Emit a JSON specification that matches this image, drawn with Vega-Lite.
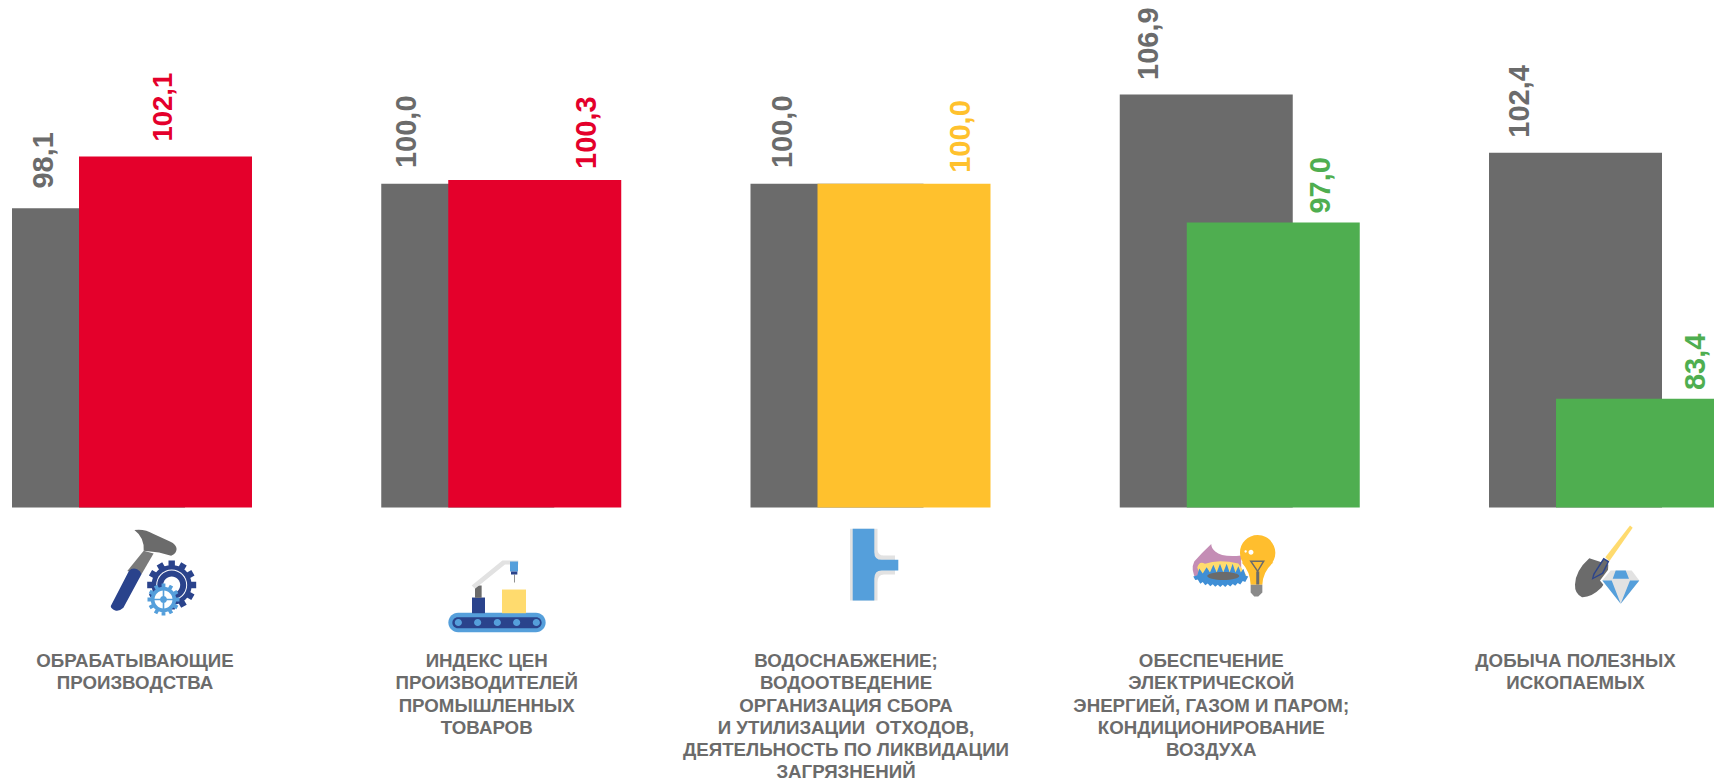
{"$schema":"https://vega.github.io/schema/vega-lite/v6.json","width":1714,"height":780,"padding":0,"autosize":{"type":"none"},"background":"white","config":{"view":{"stroke":null}},
"datasets":{
"bars":[
{"cat":"Обрабатывающие","series":"prev","kind":"prev","value":98.1,"label":"98,1"},
{"cat":"Индекс цен","series":"prev","kind":"prev","value":100.0,"label":"100,0"},
{"cat":"Водоснабжение","series":"prev","kind":"prev","value":100.0,"label":"100,0"},
{"cat":"Энергия","series":"prev","kind":"prev","value":106.9,"label":"106,9"},
{"cat":"Добыча","series":"prev","kind":"prev","value":102.4,"label":"102,4"},
{"cat":"Обрабатывающие","series":"cur","kind":"rise","value":102.1,"label":"102,1"},
{"cat":"Индекс цен","series":"cur","kind":"rise","value":100.3,"label":"100,3"},
{"cat":"Водоснабжение","series":"cur","kind":"flat","value":100.0,"label":"100,0"},
{"cat":"Энергия","series":"cur","kind":"fall","value":97.0,"label":"97,0"},
{"cat":"Добыча","series":"cur","kind":"fall","value":83.4,"label":"83,4"}],
"names":[
{"cat":"Обрабатывающие","text":"ОБРАБАТЫВАЮЩИЕ\nПРОИЗВОДСТВА"},
{"cat":"Индекс цен","text":"ИНДЕКС ЦЕН\nПРОИЗВОДИТЕЛЕЙ\nПРОМЫШЛЕННЫХ\nТОВАРОВ"},
{"cat":"Водоснабжение","text":"ВОДОСНАБЖЕНИЕ;\nВОДООТВЕДЕНИЕ\nОРГАНИЗАЦИЯ СБОРА\nИ УТИЛИЗАЦИИ \u00a0ОТХОДОВ,\nДЕЯТЕЛЬНОСТЬ ПО ЛИКВИДАЦИИ\nЗАГРЯЗНЕНИЙ"},
{"cat":"Энергия","text":"ОБЕСПЕЧЕНИЕ\nЭЛЕКТРИЧЕСКОЙ\nЭНЕРГИЕЙ, ГАЗОМ И ПАРОМ;\nКОНДИЦИОНИРОВАНИЕ\nВОЗДУХА"},
{"cat":"Добыча","text":"ДОБЫЧА ПОЛЕЗНЫХ\nИСКОПАЕМЫХ"}],
"icons":[
{"cat":"Обрабатывающие","part":"hhead"},{"cat":"Обрабатывающие","part":"hhandle"},{"cat":"Обрабатывающие","part":"hgrip"},{"cat":"Обрабатывающие","part":"g1"},{"cat":"Обрабатывающие","part":"w1"},{"cat":"Обрабатывающие","part":"g1b"},{"cat":"Обрабатывающие","part":"w2"},{"cat":"Обрабатывающие","part":"g2"},{"cat":"Обрабатывающие","part":"w3"},{"cat":"Обрабатывающие","part":"hub"},
{"cat":"Индекс цен","part":"belt"},{"cat":"Индекс цен","part":"beltin"},{"cat":"Индекс цен","part":"rollers"},{"cat":"Индекс цен","part":"base"},{"cat":"Индекс цен","part":"armg"},{"cat":"Индекс цен","part":"arml"},{"cat":"Индекс цен","part":"head"},{"cat":"Индекс цен","part":"nozzle"},{"cat":"Индекс цен","part":"needle"},{"cat":"Индекс цен","part":"box"},
{"cat":"Водоснабжение","part":"pipeout"},{"cat":"Водоснабжение","part":"pipe"},
{"cat":"Энергия","part":"flame"},{"cat":"Энергия","part":"flamein"},{"cat":"Энергия","part":"spikes"},{"cat":"Энергия","part":"ring"},{"cat":"Энергия","part":"burner"},{"cat":"Энергия","part":"bulb"},{"cat":"Энергия","part":"cap"},{"cat":"Энергия","part":"filament"},{"cat":"Энергия","part":"shine"},
{"cat":"Добыча","part":"shaft"},{"cat":"Добыча","part":"blade"},{"cat":"Добыча","part":"socket"},{"cat":"Добыча","part":"socketin"},{"cat":"Добыча","part":"gemgap"},{"cat":"Добыча","part":"gem"},{"cat":"Добыча","part":"gemblue"}]
},
"encoding":{"x":{"field":"cat","type":"nominal","axis":null,"sort":null,"scale":{"type":"band","domain":["Обрабатывающие","Индекс цен","Водоснабжение","Энергия","Добыча"],"range":[12,1662],"paddingInner":0.5315,"paddingOuter":0}}},
"layer":[
{"data":{"name":"bars"},"transform":[{"filter":"datum.series==='prev'"}],"mark":{"type":"bar","color":"#6B6B6B"},"encoding":{"y":{"field":"value","type":"quantitative","axis":null,"scale":{"domain":[53.96,114.19],"zero":false,"nice":false}},"y2":{"datum":75}}},
{"data":{"name":"bars"},"transform":[{"filter":"datum.series==='cur'"}],"mark":{"type":"bar","xOffset":67},"encoding":{"y":{"field":"value","type":"quantitative"},"y2":{"datum":75},"color":{"field":"kind","type":"nominal","legend":null,"scale":{"domain":["rise","flat","fall"],"range":["#E4002B","#FFC12D","#4FAE50"]}}}},
{"data":{"name":"bars"},"transform":[{"filter":"datum.series==='prev'&&datum.cat==='Обрабатывающие'"}],"mark":{"type":"text","angle":270,"align":"left","baseline":"middle","font":"Liberation Sans","fontSize":29,"fontWeight":"bold","color":"#6B6B6B","xOffset":-54.3,"yOffset":-19.8},"encoding":{"y":{"field":"value","type":"quantitative"},"text":{"field":"label"}}},
{"data":{"name":"bars"},"transform":[{"filter":"datum.series==='prev'&&datum.cat==='Индекс цен'"}],"mark":{"type":"text","angle":270,"align":"left","baseline":"middle","font":"Liberation Sans","fontSize":29,"fontWeight":"bold","color":"#6B6B6B","xOffset":-60.3,"yOffset":-15.75},"encoding":{"y":{"field":"value","type":"quantitative"},"text":{"field":"label"}}},
{"data":{"name":"bars"},"transform":[{"filter":"datum.series==='prev'&&datum.cat==='Водоснабжение'"}],"mark":{"type":"text","angle":270,"align":"left","baseline":"middle","font":"Liberation Sans","fontSize":29,"fontWeight":"bold","color":"#6B6B6B","xOffset":-54,"yOffset":-15.75},"encoding":{"y":{"field":"value","type":"quantitative"},"text":{"field":"label"}}},
{"data":{"name":"bars"},"transform":[{"filter":"datum.series==='prev'&&datum.cat==='Энергия'"}],"mark":{"type":"text","angle":270,"align":"left","baseline":"middle","font":"Liberation Sans","fontSize":29,"fontWeight":"bold","color":"#6B6B6B","xOffset":-57.3,"yOffset":-14.5},"encoding":{"y":{"field":"value","type":"quantitative"},"text":{"field":"label"}}},
{"data":{"name":"bars"},"transform":[{"filter":"datum.series==='prev'&&datum.cat==='Добыча'"}],"mark":{"type":"text","angle":270,"align":"left","baseline":"middle","font":"Liberation Sans","fontSize":29,"fontWeight":"bold","color":"#6B6B6B","xOffset":-55.5,"yOffset":-15},"encoding":{"y":{"field":"value","type":"quantitative"},"text":{"field":"label"}}},
{"data":{"name":"bars"},"transform":[{"filter":"datum.series==='cur'&&datum.cat==='Обрабатывающие'"}],"mark":{"type":"text","angle":270,"align":"left","baseline":"middle","font":"Liberation Sans","fontSize":27.5,"fontWeight":"bold","color":"#E4002B","xOffset":65.2,"yOffset":-15},"encoding":{"y":{"field":"value","type":"quantitative"},"text":{"field":"label"}}},
{"data":{"name":"bars"},"transform":[{"filter":"datum.series==='cur'&&datum.cat==='Индекс цен'"}],"mark":{"type":"text","angle":270,"align":"left","baseline":"middle","font":"Liberation Sans","fontSize":29,"fontWeight":"bold","color":"#E4002B","xOffset":119.5,"yOffset":-10.9},"encoding":{"y":{"field":"value","type":"quantitative"},"text":{"field":"label"}}},
{"data":{"name":"bars"},"transform":[{"filter":"datum.series==='cur'&&datum.cat==='Водоснабжение'"}],"mark":{"type":"text","angle":270,"align":"left","baseline":"middle","font":"Liberation Sans","fontSize":29,"fontWeight":"bold","color":"#FFC12D","xOffset":123.5,"yOffset":-11},"encoding":{"y":{"field":"value","type":"quantitative"},"text":{"field":"label"}}},
{"data":{"name":"bars"},"transform":[{"filter":"datum.series==='cur'&&datum.cat==='Энергия'"}],"mark":{"type":"text","angle":270,"align":"left","baseline":"middle","font":"Liberation Sans","fontSize":29,"fontWeight":"bold","color":"#4FAE50","xOffset":114.5,"yOffset":-9},"encoding":{"y":{"field":"value","type":"quantitative"},"text":{"field":"label"}}},
{"data":{"name":"bars"},"transform":[{"filter":"datum.series==='cur'&&datum.cat==='Добыча'"}],"mark":{"type":"text","angle":270,"align":"left","baseline":"middle","font":"Liberation Sans","fontSize":29,"fontWeight":"bold","color":"#4FAE50","xOffset":120.5,"yOffset":-8.7},"encoding":{"y":{"field":"value","type":"quantitative"},"text":{"field":"label"}}},
{"data":{"name":"icons"},"mark":{"type":"point","filled":true,"size":4,"opacity":1,"strokeWidth":0},"encoding":{"y":{"datum":75},
"shape":{"field":"part","type":"nominal","legend":null,"scale":{
"domain":["hhead","hhandle","hgrip","g1","w1","g1b","w2","g2","w3","hub","belt","beltin","rollers","base","armg","arml","head","nozzle","needle","box","pipeout","pipe","flame","flamein","spikes","ring","burner","bulb","cap","filament","shine","shaft","blade","socket","socketin","gemgap","gem","gemblue"],
"range":[
"M35.9 22.5Q46 21 55.1 26.5L71.5 34Q78.1 37 78.1 41.6Q78 46 72.6 48.3L60.6 45L45.2 43.3Q46 30 35.9 22.5Z",
"M45.2 43.3L55.1 46L43 66.8L28.8 63.4Z",
"M30.4 63.4Q34 59.5 38.6 61.7Q42 63 43 66.8L24.9 100.3Q21 104 16.7 103Q12 101 12.3 98.6Z",
"M73.2 77.5m-24.5 -3.2l49 0l0 6.4l-49 0zm24.5 3.2m-19.62 -15.02l42.43 24.5l-3.2 5.54l-42.43 -24.5zm19.62 15.02m-9.48 -22.82l24.5 42.43l-5.54 3.2l-24.5 -42.43zm9.48 22.82m3.2 -24.5l0 49l-6.4 0l0 -49zm-3.2 24.5m15.02 -19.62l-24.5 42.43l-5.54 -3.2l24.5 -42.43zm-15.02 19.62m22.82 -9.48l-42.43 24.5l-3.2 -5.54l42.43 -24.5zm-22.82 9.48m-20 0a20 20 0 1 1 40 0a20 20 0 1 1 -40 0z",
"M57.7 77.5a15.5 15.5 0 1 1 31 0a15.5 15.5 0 1 1 -31 0z",
"M58.7 77.5a14.5 14.5 0 1 1 29 0a14.5 14.5 0 1 1 -29 0z",
"M64.7 77.5a8.5 8.5 0 1 1 17 0a8.5 8.5 0 1 1 -17 0z",
"M65 92m-16 -1.9l32 0l0 3.8l-32 0zm16 1.9m-12.91 -9.65l27.71 16l-1.9 3.29l-27.71 -16zm12.91 9.65m-6.35 -14.81l16 27.71l-3.29 1.9l-16 -27.71zm6.35 14.81m1.9 -16l0 32l-3.8 0l0 -32zm-1.9 16m9.65 -12.91l-16 27.71l-3.29 -1.9l16 -27.71zm-9.65 12.91m14.81 -6.35l-27.71 16l-1.9 -3.29l27.71 -16zm-14.81 6.35m-12.8 0a12.8 12.8 0 1 1 25.6 0a12.8 12.8 0 1 1 -25.6 0z",
"M56 92a9 9 0 1 1 18 0a9 9 0 1 1 -18 0z",
"M55.5 91.2L74.5 91.2L74.5 92.8L55.5 92.8ZM64.2 82.5L65.8 82.5L65.8 101.5L64.2 101.5ZM61.5 92a3.5 3.5 0 1 1 7 0a3.5 3.5 0 1 1 -7 0z",
"M-9.7 105.3L68.2 105.3a9.7 9.7 0 0 1 0 19.4L-9.7 124.7a9.7 9.7 0 0 1 0 -19.4z",
"M-9.9 109.7L68.4 109.7a5.5 5.5 0 0 1 0 11L-9.9 120.7a5.5 5.5 0 0 1 0 -11z",
"M-13 115a3.6 3.6 0 1 1 7.2 0a3.6 3.6 0 1 1 -7.2 0zM6.3 115a3.6 3.6 0 1 1 7.2 0a3.6 3.6 0 1 1 -7.2 0zM26 115a3.6 3.6 0 1 1 7.2 0a3.6 3.6 0 1 1 -7.2 0zM45.3 115a3.6 3.6 0 1 1 7.2 0a3.6 3.6 0 1 1 -7.2 0zM65 115a3.6 3.6 0 1 1 7.2 0a3.6 3.6 0 1 1 -7.2 0z",
"M4.25 90L17.25 90L17.25 105.7L4.25 105.7Z",
"M7.25 78L13.9 78L13.9 90.3L7.25 90.3Z",
"M3.9 78L34.6 53L50.6 53L50.6 57L37.25 57L7.25 81.3Z",
"M42.25 54L50.25 54L50.25 64L42.25 64Z",
"M43.25 64L49.6 64L49.6 67L43.25 67Z",
"M46.25 67L47 67L47 75L46.25 75Z",
"M34.25 82L58.25 82L58.25 105.7L34.25 105.7Z",
"M13 21.3L40.5 21.3L40.5 42Q40.5 48 47 48L58 48L58 67L47 67Q40.5 67 40.5 75L40.5 93L13 93Z",
"M15.7 21.3L37.3 21.3L37.3 44.7Q37.3 52.3 44.7 52.3L61.3 52.3L61.3 63L44.7 63Q37.3 63 37.3 71.3L37.3 93L15.7 93Z",
"M5 36.6Q-5 46 -12 54Q-16 62 -10 72L35 62L34.8 48Q16 50 9 44Q5 41 5 36.6Z",
"M-9 60Q-7 53 -1.25 56.3Q12.1 51.3 32.1 56L40.4 68L-4.6 73Z",
"M-9 68L-7 61L-3.5 66L0.4 59.7L3.7 65L7.1 57.3L10.4 65L13.75 56.3L17 65L20.4 56.3L23.4 65L26.4 56.3L29.2 65L32.1 58.7L34.6 65L37.1 61.3L40 70L14 72Z",
"M-13 69L-11 72.6L-8.5 72L-6 76.2L-3.5 74.5L-1 77.8L1.5 76L4 78.7L6.5 76.8L9 79.3L11.5 77.2L14 79.5L16.5 77.2L19 79.4L21.5 77L24 79L26.5 76.5L29 78.2L31.5 75.5L34 77L36.5 73.5L39 74.6L42 69Q15 60 -13 69Z",
"M1 68.5a16 4 0 1 1 32 0a16 4 0 1 1 -32 0z",
"M33.7 45.3a17.7 17.7 0 1 1 35.4 0a17.7 17.7 0 1 1 -35.4 0zM67.1 55Q56.5 64 56.1 77.3L44.4 77.3Q44 64 35.4 55Z",
"M44.4 77.3L56.1 77.3L56.1 85L52 89L48 89L44.4 85Z",
"M43.1 53L58.75 53L51.4 65ZM46 54.5L51.4 62.5L56 54.5ZM50 64L53 64L53 77L50 77Z",
"M42.25 44.7a2.5 2.5 0 1 1 5 0a2.5 2.5 0 1 1 -5 0zM38.2 44a1.2 1.2 0 1 1 2.4 0a1.2 1.2 0 1 1 -2.4 0z",
"M54.5 18L57.2 20.3L33.8 53.7L29.8 49.7Z",
"M13.8 50.7L32.8 57Q33 72 26 80Q16 90 6.5 89.7Q-1 86 -0.5 77Q0 63 13.8 50.7Z",
"M28 50.3L33.8 53.7L27.8 66.3L16.2 72.3L17.8 66.3Z",
"M28.5 52.3L32 54.5L26.5 65.3L18 70L19.3 66.5Z",
"M33.5 61L57.5 61L66 73L45.2 99L24.5 73Z",
"M35.2 63L56.2 63L63.8 73L45.2 96.3L26.8 73Z",
"M40.2 63L50.2 63L53.5 71.3L37.2 71.3ZM26.8 73L36.2 73L45.2 96.3ZM63.8 73L54.5 73L45.2 96.3Z"
]}},
"color":{"field":"part","type":"nominal","legend":null,"scale":{
"domain":["hhead","hhandle","hgrip","g1","w1","g1b","w2","g2","w3","hub","belt","beltin","rollers","base","armg","arml","head","nozzle","needle","box","pipeout","pipe","flame","flamein","spikes","ring","burner","bulb","cap","filament","shine","shaft","blade","socket","socketin","gemgap","gem","gemblue"],
"range":["#6B6B6B","#7A7A7A","#2A438C","#2A438C","#FFFFFF","#2A438C","#FFFFFF","#559FDB","#FFFFFF","#559FDB","#559FDB","#2A438C","#559FDB","#2A438C","#6B6B6B","#E2E2E2","#559FDB","#2A438C","#6B6B6B","#FFDB6E","#E2E2E2","#559FDB","#C48DB5","#FFDB6E","#3F8FD6","#3F8FD6","#6B6B6B","#FFBE2E","#8A8A8A","#6B6B6B","#FFFFFF","#FFDB6E","#6B6B6B","#2A438C","#6B6B6B","#FFFFFF","#E2E2E2","#559FDB"]}}}},
{"data":{"name":"names"},"transform":[{"filter":"datum.cat==='Обрабатывающие'"}],"mark":{"type":"text","align":"center","baseline":"top","lineBreak":"\n","lineHeight":22.3,"font":"Liberation Sans","fontSize":18.7,"fontWeight":"bold","color":"#6B6B6B","xOffset":36.5},"encoding":{"y":{"datum":63.85},"text":{"field":"text"}}},
{"data":{"name":"names"},"transform":[{"filter":"datum.cat==='Индекс цен'"}],"mark":{"type":"text","align":"center","baseline":"top","lineBreak":"\n","lineHeight":22.3,"font":"Liberation Sans","fontSize":18.7,"fontWeight":"bold","color":"#6B6B6B","xOffset":19},"encoding":{"y":{"datum":63.85},"text":{"field":"text"}}},
{"data":{"name":"names"},"transform":[{"filter":"datum.cat==='Водоснабжение'"}],"mark":{"type":"text","align":"center","baseline":"top","lineBreak":"\n","lineHeight":22.3,"font":"Liberation Sans","fontSize":18.7,"fontWeight":"bold","color":"#6B6B6B","xOffset":9},"encoding":{"y":{"datum":63.85},"text":{"field":"text"}}},
{"data":{"name":"names"},"transform":[{"filter":"datum.cat==='Энергия'"}],"mark":{"type":"text","align":"center","baseline":"top","lineBreak":"\n","lineHeight":22.3,"font":"Liberation Sans","fontSize":18.7,"fontWeight":"bold","color":"#6B6B6B","xOffset":5},"encoding":{"y":{"datum":63.85},"text":{"field":"text"}}},
{"data":{"name":"names"},"transform":[{"filter":"datum.cat==='Добыча'"}],"mark":{"type":"text","align":"center","baseline":"top","lineBreak":"\n","lineHeight":22.3,"font":"Liberation Sans","fontSize":18.7,"fontWeight":"bold","color":"#6B6B6B","xOffset":0},"encoding":{"y":{"datum":63.85},"text":{"field":"text"}}}
],
"resolve":{"scale":{"color":"independent","shape":"independent"}}
}
